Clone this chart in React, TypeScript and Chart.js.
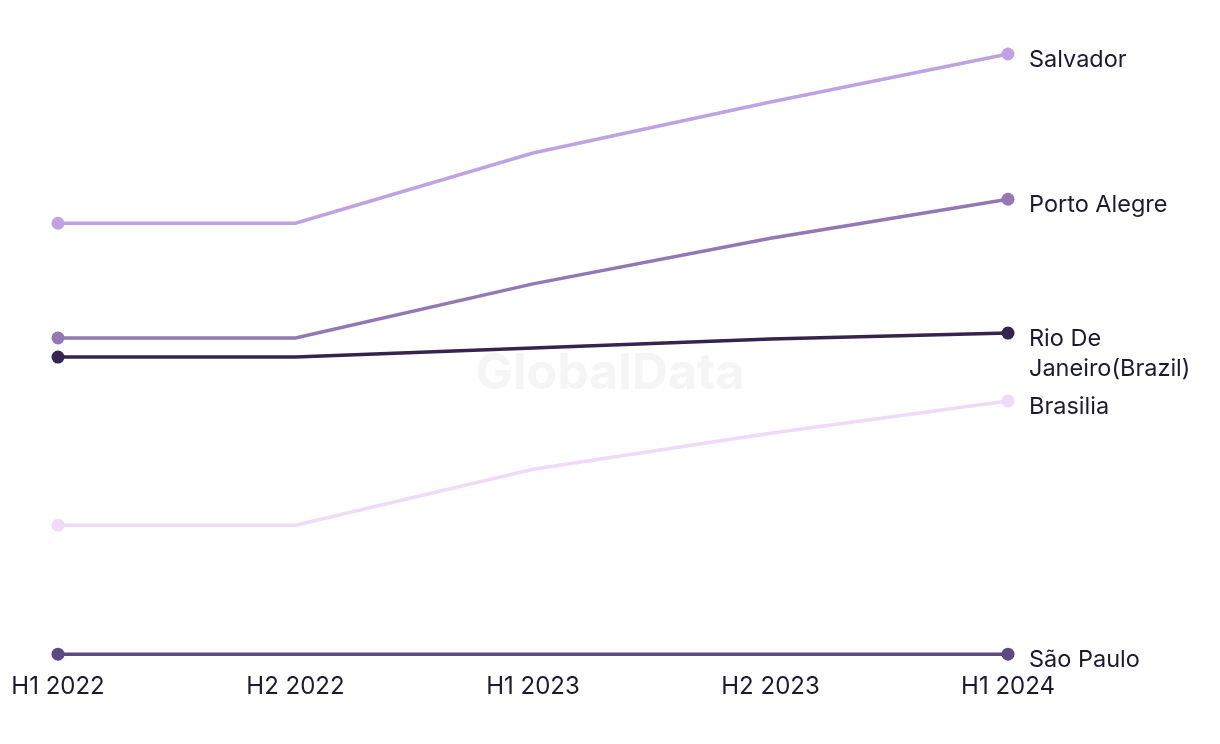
import React, { useEffect, useRef } from "react";
import { Chart, registerables } from "chart.js";

Chart.register(...registerables);

const periods = ["H1 2022", "H2 2022", "H1 2023", "H2 2023", "H1 2024"];
const seriesNames = ["Salvador", "Porto Alegre", "Rio De Janeiro(Brazil)", "Brasilia", "São Paulo"];
const salvador = [71.8, 71.8, 83.5, 92.0, 100.0];
const portoAlegre = [52.7, 52.7, 61.7, 69.3, 75.8];
const rioDeJaneiro = [49.5, 49.5, 51.0, 52.5, 53.5];
const brasilia = [21.5, 21.5, 30.8, 36.8, 42.2];
const saoPaulo = [0, 0, 0, 0, 0];
const endLabels = [["Salvador"], ["Porto Alegre"], ["Rio De", "Janeiro(Brazil)"], ["Brasilia"], ["São Paulo"]];
const colors = ["#bea2e2", "#9478b4", "#34244f", "#efdafa", "#5e4a82"];

const FONT = "Inter, 'Noto Sans', sans-serif";
const TEXT = "#1c1a2e";

const watermarkPlugin = {
  id: "watermark",
  beforeDatasetsDraw(chart: any) {
    const { ctx } = chart;
    ctx.save();
    ctx.font = `bold 50px ${FONT}`;
    ctx.fillStyle = "rgba(242,242,242,0.8)";
    ctx.textAlign = "center";
    ctx.textBaseline = "middle";
    ctx.fillText("GlobalData", 602, 366);
    ctx.restore();
  },
};

const endLabelPlugin = {
  id: "endLabels",
  afterDatasetsDraw(chart: any) {
    const { ctx } = chart;
    ctx.save();
    ctx.font = `23.5px ${FONT}`;
    ctx.fillStyle = TEXT;
    ctx.textAlign = "left";
    ctx.textBaseline = "middle";
    chart.data.datasets.forEach((ds: any, i: number) => {
      const meta = chart.getDatasetMeta(i);
      const pt = meta.data[meta.data.length - 1];
      const lines = endLabels[i];
      lines.forEach((ln: string, j: number) => {
        ctx.fillText(ln, pt.x + 21, pt.y + 6 + j * 30);
      });
    });
    ctx.restore();
  },
};

export default function App() {
  const ref = useRef<HTMLCanvasElement>(null);
  useEffect(() => {
    const all = [salvador, portoAlegre, rioDeJaneiro, brasilia, saoPaulo];
    const chart = new Chart(ref.current!, {
      type: "line",
      data: {
        labels: periods,
        datasets: all.map((d, i) => ({
          label: seriesNames[i],
          data: d,
          borderColor: colors[i],
          backgroundColor: colors[i],
          borderWidth: 3.5,
          tension: 0,
          pointRadius: d.map((_, k) => (k === 0 || k === d.length - 1 ? 6.5 : 0)),
          pointHoverRadius: 6,
          pointBorderWidth: 0,
          clip: false,
        })),
      },
      options: {
        animation: false,
        responsive: false,
        maintainAspectRatio: false,
        layout: { padding: { left: 50, right: 204, top: 46, bottom: 17 } },
        plugins: { legend: { display: false }, tooltip: { enabled: false } },
        scales: {
          y: { display: false, min: 0, max: 100 },
          x: {
            grid: { display: false, drawTicks: false },
            border: { display: false },
            ticks: { color: TEXT, font: { family: FONT, size: 24 }, padding: 18, maxRotation: 0, autoSkip: false },
            afterFit(scale: any) {
              scale.paddingLeft = 0;
              scale.paddingRight = 0;
            },
          },
        },
      },
      plugins: [watermarkPlugin, endLabelPlugin],
    });
    return () => chart.destroy();
  }, []);
  return (
    <div style={{ width: 1204, height: 728 }}>
      <canvas ref={ref} width={1204} height={728} style={{ display: "block" }} />
    </div>
  );
}
